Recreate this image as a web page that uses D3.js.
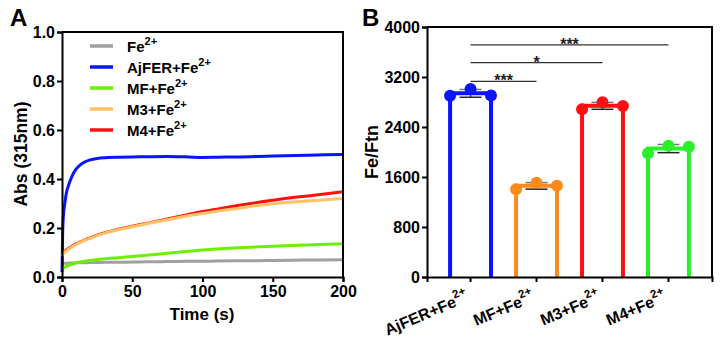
<!DOCTYPE html>
<html>
<head>
<meta charset="utf-8">
<script src="https://cdn.jsdelivr.net/npm/d3@7"></script>
<style>
  body { margin: 0; background: #fff; }
  svg { font-family: "Liberation Sans", Arial, sans-serif; font-weight: bold; }
  .axis path, .axis line { stroke: #000; stroke-width: 2; }
  .axis text { font-size: 16px; font-weight: bold; fill: #000; font-family: "Liberation Sans", Arial, sans-serif; }
</style>
</head>
<body>
<div id="chart"></div>
<script>
// Panel A: absorbance kinetics at 315 nm
const timeA = [0, 0.5, 1, 2, 3, 5, 7, 10, 13, 16, 20, 25, 30, 40, 50, 60, 75, 90, 100, 110, 125, 150, 175, 200];
const absFe    = [0.055, 0.055, 0.056, 0.056, 0.056, 0.057, 0.057, 0.058, 0.058, 0.058, 0.059, 0.059, 0.060, 0.060, 0.061, 0.062, 0.063, 0.064, 0.064, 0.065, 0.066, 0.067, 0.069, 0.070];
const absAjFER = [0.02, 0.19, 0.25, 0.30, 0.34, 0.38, 0.41, 0.44, 0.458, 0.469, 0.478, 0.484, 0.487, 0.489, 0.490, 0.491, 0.492, 0.490, 0.488, 0.489, 0.490, 0.494, 0.497, 0.500];
const absMF    = [0.030, 0.033, 0.036, 0.040, 0.043, 0.048, 0.052, 0.057, 0.061, 0.064, 0.067, 0.071, 0.074, 0.079, 0.084, 0.089, 0.097, 0.105, 0.110, 0.114, 0.119, 0.126, 0.131, 0.136];
const absM3    = [0.085, 0.090, 0.095, 0.101, 0.106, 0.115, 0.122, 0.132, 0.141, 0.149, 0.158, 0.169, 0.178, 0.193, 0.205, 0.217, 0.234, 0.250, 0.259, 0.268, 0.280, 0.299, 0.310, 0.320];
const absM4    = [0.090, 0.095, 0.100, 0.105, 0.110, 0.118, 0.125, 0.135, 0.143, 0.151, 0.160, 0.171, 0.180, 0.195, 0.207, 0.219, 0.237, 0.255, 0.267, 0.277, 0.292, 0.313, 0.331, 0.348];
const seriesNames  = ["Fe", "AjFER+Fe", "MF+Fe", "M3+Fe", "M4+Fe"];
const seriesColors = ["#a0a0a0", "#0a14ff", "#6cf000", "#ffc265", "#ff1010"];
const xTicksA = [0, 50, 100, 150, 200];
const yTicksA = [0, 0.2, 0.4, 0.6, 0.8, 1.0];

// Panel B: iron loading per ferritin
const categories = ["AjFER+Fe", "MF+Fe", "M3+Fe", "M4+Fe"];
const fePerFtn = [
  [2900, 3010, 2905],
  [1405, 1510, 1460],
  [2685, 2795, 2735],
  [1980, 2100, 2085]
];
const barColors = ["#0a14ff", "#ff8a1c", "#ff1010", "#2af02a"];
const yTicksB = [0, 800, 1600, 2400, 3200, 4000];
// significance brackets: [from index, to index, label]
const brackets = [[0, 1, "***"], [0, 2, "*"], [0, 3, "***"]];
const bracketY = [3130, 3430, 3715];

const svg = d3.select("#chart").append("svg")
  .attr("width", 726)
  .attr("height", 345);

// ---------- Panel A ----------
const xA = d3.scaleLinear().domain([0, 200]).range([62, 343]);
const yA = d3.scaleLinear().domain([0, 1]).range([277, 32]);

const gA = svg.append("g");

const seriesA = [absFe, absAjFER, absMF, absM4, absM3];
const orderIdx = [0, 1, 2, 4, 3];
const line = d3.line()
  .x((d, i) => xA(timeA[i]))
  .y(d => yA(d))
  .curve(d3.curveMonotoneX);

seriesA.forEach((vals, k) => {
  gA.append("path")
    .datum(vals)
    .attr("fill", "none")
    .attr("stroke", seriesColors[orderIdx[k]])
    .attr("stroke-width", 3)
    .attr("d", line);
});

gA.append("g").attr("class", "axis")
  .attr("transform", "translate(0,277)")
  .call(d3.axisBottom(xA).tickValues(xTicksA).tickSizeOuter(0).tickSize(5).tickPadding(4));
gA.append("g").attr("class", "axis")
  .attr("transform", "translate(62,0)")
  .call(d3.axisLeft(yA).tickValues(yTicksA).tickFormat(d3.format(".1f")).tickSizeOuter(0).tickSize(5).tickPadding(2));
// top and right frame
gA.append("path")
  .attr("d", `M${xA(0)},${yA(1)}H${xA(200)}V${yA(0)}`)
  .attr("fill", "none").attr("stroke", "#000").attr("stroke-width", 2);

// legend
const legA = gA.append("g");
seriesNames.forEach((name, i) => {
  const y = 46 + i * 21;
  legA.append("line")
    .attr("x1", 90).attr("x2", 113).attr("y1", y).attr("y2", y)
    .attr("stroke", seriesColors[i]).attr("stroke-width", 3.5);
  const t = legA.append("text").attr("x", 127).attr("y", y + 6).attr("font-size", 15);
  t.append("tspan").text(name);
  t.append("tspan").attr("dy", -7).attr("font-size", 11).text("2+");
});

gA.append("text").attr("x", 202).attr("y", 320).attr("text-anchor", "middle")
  .attr("font-size", 17).text("Time (s)");
gA.append("text").attr("transform", "translate(27,154) rotate(-90)").attr("text-anchor", "middle")
  .attr("font-size", 17.5).text("Abs (315nm)");
gA.append("text").attr("x", 10).attr("y", 26).attr("font-size", 24).text("A");

// ---------- Panel B ----------
const xB = d3.scaleBand().domain(categories).range([427, 712]).paddingInner(0.38).paddingOuter(0.35);
const yB = d3.scaleLinear().domain([0, 4000]).range([277, 27]);
const bw = xB.bandwidth();

const gB = svg.append("g");

const stats = fePerFtn.map(v => ({ mean: d3.mean(v), sd: d3.deviation(v) }));

// hollow bars
gB.selectAll(".bar")
  .data(categories)
  .enter().append("path")
  .attr("class", "bar")
  .attr("d", (c, i) => `M${xB(c)},${yB(0)}V${yB(stats[i].mean)}H${xB(c) + bw}V${yB(0)}`)
  .attr("fill", "none")
  .attr("stroke", (c, i) => barColors[i])
  .attr("stroke-width", 4);

// error bars (mean ± SD)
categories.forEach((c, i) => {
  const cx = xB(c) + bw / 2;
  const s = stats[i];
  const eg = gB.append("g").attr("stroke-width", 1.5);
  eg.append("line").attr("stroke", "#444").attr("x1", cx).attr("x2", cx).attr("y1", yB(s.mean - s.sd)).attr("y2", yB(s.mean + s.sd));
  eg.append("line").attr("stroke", "#222").attr("x1", cx - 11).attr("x2", cx + 11).attr("y1", yB(s.mean - s.sd)).attr("y2", yB(s.mean - s.sd));
  eg.append("line").attr("stroke", "#777").attr("x1", cx - 11).attr("x2", cx + 11).attr("y1", yB(s.mean + s.sd)).attr("y2", yB(s.mean + s.sd));
});

// replicate points
categories.forEach((c, i) => {
  gB.selectAll(".pt" + i)
    .data(fePerFtn[i])
    .enter().append("circle")
    .attr("cx", (d, j) => xB(c) + j * bw / 2)
    .attr("cy", d => yB(d))
    .attr("r", 6)
    .attr("fill", barColors[i]);
});

gB.append("g").attr("class", "axis")
  .attr("transform", "translate(0,277)")
  .call(d3.axisBottom(xB).tickSizeOuter(0).tickSize(5).tickFormat(""));
gB.append("g").attr("class", "axis")
  .attr("transform", "translate(427,0)")
  .call(d3.axisLeft(yB).tickValues(yTicksB).tickFormat(d3.format("d")).tickSizeOuter(0).tickSize(5).tickPadding(2));
gB.append("path")
  .attr("d", `M427,${yB(4000)}H712V${yB(0)}`)
  .attr("fill", "none").attr("stroke", "#000").attr("stroke-width", 2);

// rotated category labels
categories.forEach(c => {
  const cx = xB(c) + bw / 2;
  const t = gB.append("text")
    .attr("transform", `translate(${cx - 1},${301}) rotate(-23)`)
    .attr("text-anchor", "end")
    .attr("font-size", 16);
  t.append("tspan").text(c);
  t.append("tspan").attr("dy", -8).attr("font-size", 11.5).text("2+");
});

// significance brackets
brackets.forEach((b, k) => {
  const x1 = xB(categories[b[0]]) + bw / 2;
  const x2 = xB(categories[b[1]]) + bw / 2;
  const y = yB(bracketY[k]);
  gB.append("line").attr("x1", x1).attr("x2", x2).attr("y1", y).attr("y2", y)
    .attr("stroke", "#333").attr("stroke-width", 1.2);
  gB.append("text").attr("x", (x1 + x2) / 2).attr("y", y + 5).attr("text-anchor", "middle")
    .attr("font-size", 16).attr("fill", "#222").text(b[2]);
});

gB.append("text").attr("transform", "translate(378,152) rotate(-90)").attr("text-anchor", "middle")
  .attr("font-size", 18).text("Fe/Ftn");
gB.append("text").attr("x", 362).attr("y", 26).attr("font-size", 24).text("B");
</script>
</body>
</html>
